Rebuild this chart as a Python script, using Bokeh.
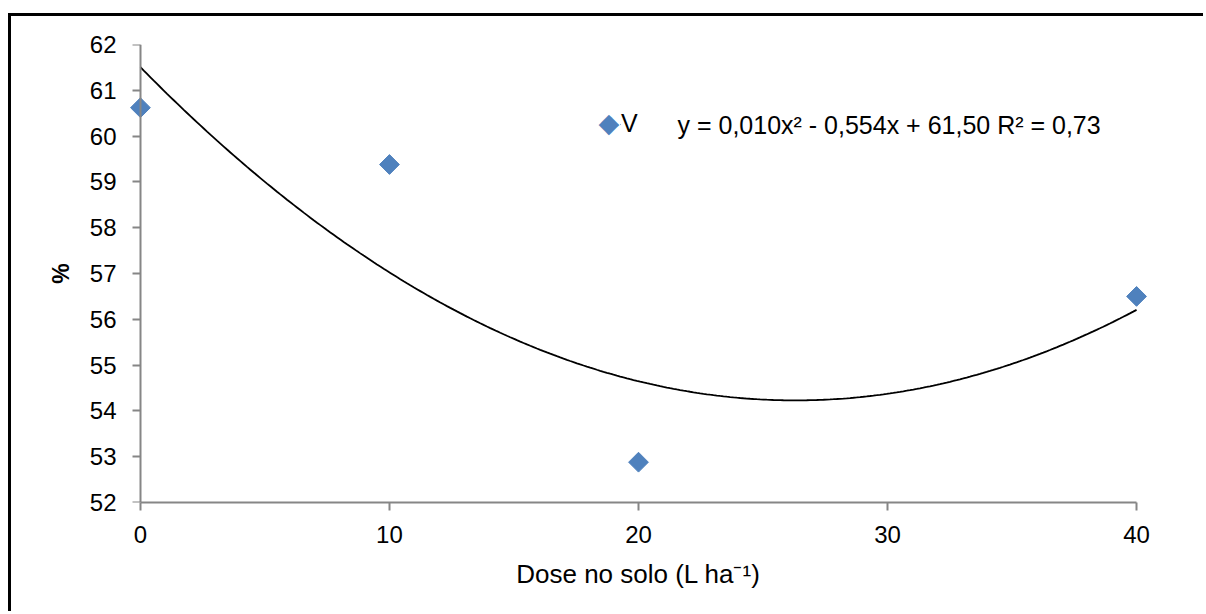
import numpy as np
from bokeh.plotting import figure
from bokeh.models import Range1d, Legend, LegendItem, Label, FixedTicker, LinearAxis
from bokeh.embed import file_html
from bokeh.resources import INLINE

# ---- data ----
dose = [0, 10, 20, 40]
v_values = [60.62, 59.38, 52.88, 56.50]
x_ticks = [0, 10, 20, 30, 40]
y_ticks = [52, 53, 54, 55, 56, 57, 58, 59, 60, 61, 62]
series_name = "V"
equation_text = "y = 0,010x² - 0,554x + 61,50 R² = 0,73"
x_label = "Dose no solo (L ha⁻¹)"
y_label = "%"

# polynomial (order 2) trendline fitted to the data
coef = np.polyfit(dose, v_values, 2)
trend_x = np.linspace(min(dose), max(dose), 300)
trend_y = np.polyval(coef, trend_x)

FONT = "Liberation Sans"
AXIS_GRAY = "#868686"
BLUE = "#4F81BD"

p = figure(width=1195, height=598,
           x_range=Range1d(-0.6, 40.6), y_range=Range1d(52, 62),
           output_backend="svg", toolbar_location=None,
           min_border_left=114, min_border_right=55,
           min_border_top=28, min_border_bottom=112,
           margin=(16, 0, 0, 11))
p.styles = {"box-shadow": "-3px -3px 0 0 black"}
p.outline_line_color = None
p.grid.visible = False
p.background_fill_color = "white"
p.border_fill_color = "white"

# trendline
p.line(trend_x, trend_y, line_color="black", line_width=1.8)

# data points (diamonds)
pts = p.scatter(dose, v_values, marker="square", size=14, angle=np.pi / 4,
                fill_color=BLUE, line_color=BLUE)

# x axis
xa = p.xaxis[0]
xa.ticker = FixedTicker(ticks=x_ticks)
xa.bounds = (0, 40)
xa.axis_line_color = AXIS_GRAY
xa.axis_line_width = 2
xa.major_tick_line_color = AXIS_GRAY
xa.major_tick_line_width = 2
xa.major_tick_in = 0
xa.major_tick_out = 8
xa.minor_tick_line_color = None
xa.major_label_text_font = FONT
xa.major_label_text_font_size = "24px"
xa.major_label_text_color = "black"
xa.major_label_standoff = 15
xa.axis_label = x_label
xa.axis_label_text_font = FONT
xa.axis_label_text_font_size = "26px"
xa.axis_label_text_font_style = "normal"
xa.axis_label_text_color = "black"
xa.axis_label_standoff = 13

# y axis: labels (at frame edge, no line/ticks)
ya = p.yaxis[0]
ya.ticker = FixedTicker(ticks=y_ticks)
ya.axis_line_color = None
ya.major_tick_line_color = None
ya.minor_tick_line_color = None
ya.major_tick_in = 0
ya.major_tick_out = 0
ya.major_label_text_font = FONT
ya.major_label_text_font_size = "24px"
ya.major_label_text_color = "black"
ya.major_label_standoff = 9
ya.axis_label = y_label
ya.axis_label_text_font = FONT
ya.axis_label_text_font_size = "23px"
ya.axis_label_text_font_style = "bold"
ya.axis_label_text_color = "black"
ya.axis_label_standoff = 13

# y axis line and ticks placed at x = 0
ya_line = LinearAxis(fixed_location=0, bounds=(52, 62),
                     ticker=FixedTicker(ticks=y_ticks),
                     axis_line_color=AXIS_GRAY, axis_line_width=2,
                     major_tick_line_color=AXIS_GRAY, major_tick_line_width=2,
                     major_tick_in=0, major_tick_out=8,
                     minor_tick_line_color=None,
                     major_label_text_font_size="1px",
                     major_label_text_color=None, major_label_standoff=0)
p.add_layout(ya_line, "left")

# legend (key drawn as a diamond text symbol)
legend = Legend(items=[LegendItem(label=series_name, renderers=[pts])],
                location=(495, 364), orientation="vertical",
                glyph_width=1, glyph_height=28, label_height=28,
                label_standoff=0, padding=0, margin=0, spacing=0,
                border_line_color=None, background_fill_alpha=0,
                label_text_font=FONT, label_text_font_size="25px",
                label_text_color="black")
p.add_layout(legend)

key = Label(x=483.5, y=380, x_units="screen", y_units="screen",
            text="◆", text_align="center", text_baseline="middle",
            text_font="DejaVu Sans", text_font_size="27px", text_color=BLUE)
p.add_layout(key)

# trendline equation
eq = Label(x=552, y=378, x_units="screen", y_units="screen",
           text=equation_text, text_baseline="middle", text_align="left",
           text_font=FONT, text_font_size="25px", text_color="black")
p.add_layout(eq)

open("out.html", "w").write(file_html(p, INLINE))
